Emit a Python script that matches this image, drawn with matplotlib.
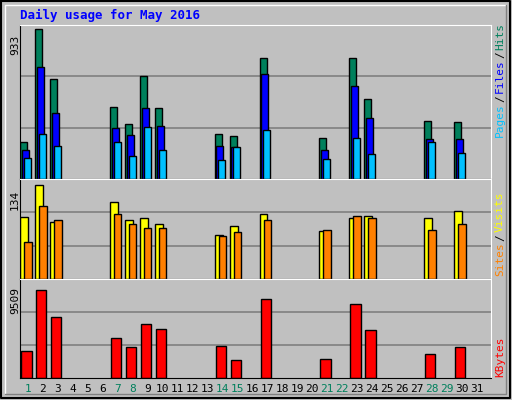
import numpy as np
import matplotlib
matplotlib.use("Agg")
import matplotlib.pyplot as plt

days = np.arange(1, 32)
active = [1, 2, 3, 7, 8, 9, 10, 14, 15, 17, 21, 23, 24, 28, 30]
hits = [228, 933, 622, 450, 343, 641, 444, 279, 267, 755, 254, 755, 501, 362, 355]
files = [184, 698, 412, 317, 273, 444, 330, 209, 197, 654, 184, 578, 381, 247, 247]
pages = [133, 279, 209, 228, 146, 323, 178, 120, 197, 305, 127, 254, 159, 228, 165]
visits = [88, 134, 81, 109, 84, 87, 78, 62, 75, 93, 68, 87, 90, 87, 97]
sites = [52, 104, 84, 93, 78, 73, 72, 61, 67, 84, 70, 90, 87, 70, 78]
kbytes = [2926, 9509, 6583, 4284, 3344, 5852, 5225, 3448, 1985, 8464, 2090, 7941, 5120, 2612, 3344]
weekend = [1, 7, 8, 14, 15, 21, 22, 28, 29]

BG = "#c0c0c0"
W, H = 512, 400
fig = plt.figure(figsize=(W / 100, H / 100), dpi=100, facecolor=BG)
font = "DejaVu Sans Mono"

# outer frame
frame = fig.add_axes([0, 0, 1, 1], facecolor="none")
frame.set_xlim(0, W); frame.set_ylim(H, 0); frame.axis("off")
frame.plot([1, 510, 510, 1, 1], [1, 1, 398, 398, 1], color="black", lw=1.5)
frame.plot([5, 5, 506], [394, 5, 5], color="white", lw=1)
frame.plot([5, 506, 506], [394, 394, 5], color="#808080", lw=1)

fig.text(20 / W, 1 - 15 / H, "Daily usage for May 2016", color="#0000ff",
         family=font, weight="bold", fontsize=9, va="center")

x0, x1 = 20, 491
def panel(top, bottom):
    ax = fig.add_axes([x0 / W, 1 - bottom / H, (x1 - x0) / W, (bottom - top) / H], facecolor=BG)
    ax.set_xlim(0.47, 31.95)
    for s in ax.spines.values():
        s.set_color("black")
    ax.spines["top"].set_color("white"); ax.spines["right"].set_color("white")
    ax.set_xticks([]); ax.set_yticks([])
    return ax

a = np.array(active)
ax1 = panel(25, 179)
ax1.set_ylim(0, 933 * 1.03)
for g in (933 / 3, 933 * 2 / 3):
    ax1.axhline(g * 1.03, color="#808080", lw=1.2, zorder=0)
kw = dict(align="edge", edgecolor="black", linewidth=1)
ax1.bar(a - 0.52, hits, 0.47, color="#00805c", **kw)
ax1.bar(a - 0.40, files, 0.47, color="#0000ff", **kw)
ax1.bar(a - 0.27, pages, 0.47, color="#00c0ff", **kw)

ax2 = panel(179, 279)
ax2.set_ylim(0, 134 * 1.06)
for g in (134 / 3, 134 * 2 / 3):
    ax2.axhline(g * 1.06, color="#808080", lw=1.2, zorder=0)
ax2.bar(a - 0.52, visits, 0.53, color="#ffff00", **kw)
ax2.bar(a - 0.25, sites, 0.5, color="#ff8000", **kw)

ax3 = panel(279, 378)
ax3.set_ylim(0, 9509 * 1.12)
for g in (9509 / 3, 9509 * 2 / 3):
    ax3.axhline(g * 1.12, color="#808080", lw=1.2, zorder=0)
ax3.bar(a - 0.45, kbytes, 0.69, color="#ff0000", **kw)
ax3.set_xticks(days)
ax3.set_xticklabels([str(d) for d in days], family=font, fontsize=8)
ax3.tick_params(axis="x", length=0, pad=4)
for lbl, d in zip(ax3.get_xticklabels(), days):
    lbl.set_color("#00805c" if d in weekend else "black")

# max value labels
for y, t in ((45, "933"), (200, "134"), (300, "9509")):
    fig.text(15 / W, 1 - y / H, t, rotation=90, family=font, fontsize=8, ha="center", va="center")

# right side legends
def vlegend(parts, ybottom):
    y = ybottom
    for txt, c in parts:
        t = fig.text(500 / W, 1 - y / H, txt, rotation=90, color=c, family=font,
                     fontsize=8, ha="center", va="bottom")
        y -= len(txt) * 6.6 + 2
vlegend([("Pages", "#00c0ff"), ("/", "black"), ("Files", "#0000ff"), ("/", "black"), ("Hits", "#00805c")], 137)
vlegend([("Sites", "#ff8000"), ("/", "black"), ("Visits", "#ffff00")], 276)
vlegend([("KBytes", "#ff0000")], 377)

fig.savefig("out.png", dpi=100, facecolor=BG)
